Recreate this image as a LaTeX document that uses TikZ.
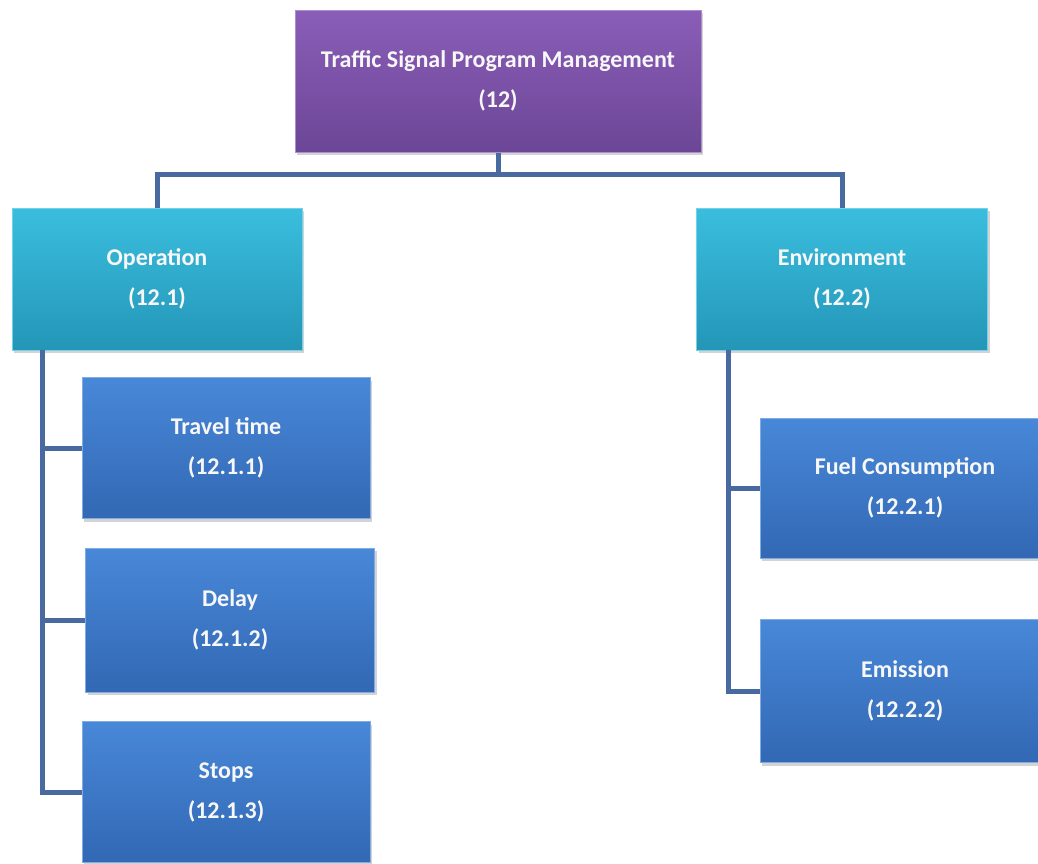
\documentclass[tikz,border=0pt]{standalone}
\usepackage{fontspec}
\setmainfont{Carlito}
\usepackage{tikz}
\usetikzlibrary{shadows}
\definecolor{rootlight}{RGB}{138,94,184}
\definecolor{rootdark}{RGB}{108,70,150}
\definecolor{midlight}{RGB}{58,190,222}
\definecolor{middark}{RGB}{36,150,184}
\definecolor{leaflight}{RGB}{72,136,216}
\definecolor{leafdark}{RGB}{50,104,180}
\definecolor{linkblue}{RGB}{72,106,160}
\tikzset{every node/.style={font=\fontsize{24}{40}\selectfont\bfseries, text=white!94!gray, align=center},
  box/.style={rectangle, inner sep=0pt, line width=1pt,
    drop shadow={opacity=0.35, shadow xshift=2pt, shadow yshift=-3pt}},
  rootbox/.style={box, top color=rootlight, bottom color=rootdark, draw=rootlight!70!white},
  midbox/.style={box, top color=midlight, bottom color=middark, draw=midlight!70!white},
  leafbox/.style={box, top color=leaflight, bottom color=leafdark, draw=leaflight!70!white},
  link/.style={draw=linkblue, line width=5pt}}

\begin{document}
\begin{tikzpicture}[x=1pt, y=-1pt]
      % \draw[step=50,gray,ultra thin] (0,0) grid (1038,863);
      \useasboundingbox (0,0) rectangle (1038,863);
      \clip (0,0) rectangle (1038,863);

      \node[rootbox, minimum width=406, minimum height=142] (tspm) at (498,81)
        {Traffic Signal Program Management\\(12)};

      \node[midbox, minimum width=290, minimum height=142] (oper) at (157,279) {Operation\\(12.1)};
      \node[midbox, minimum width=291, minimum height=142] (envi) at (842,279) {Environment\\(12.2)};

      \node[leafbox, minimum width=288, minimum height=141] (travel) at (226,448) {Travel time\\(12.1.1)};
      \node[leafbox, minimum width=289, minimum height=144] (delay) at (230,620) {Delay\\(12.1.2)};
      \node[leafbox, minimum width=288, minimum height=141] (stops) at (226,792) {Stops\\(12.1.3)};

      \node[leafbox, minimum width=290, minimum height=140] (fuel) at (905,488) {Fuel Consumption\\(12.2.1)};
      \node[leafbox, minimum width=290, minimum height=143] (emis) at (905,691) {Emission\\(12.2.2)};

      \draw[link] (tspm.south) -- ++(0,22) coordinate (hub);
      \draw[link] (oper.north) |- (hub) -| (envi.north);

      \coordinate (operleg) at (42,350);
      \draw[link] (operleg) |- (stops.west);
      \foreach \n in {travel,delay}
        \draw[link] (operleg |- \n.west) -- (\n.west);

      \coordinate (envileg) at (728,350);
      \draw[link] (envileg) |- (emis.west);
      \draw[link] (envileg |- fuel.west) -- (fuel.west);
\end{tikzpicture}
\end{document}
